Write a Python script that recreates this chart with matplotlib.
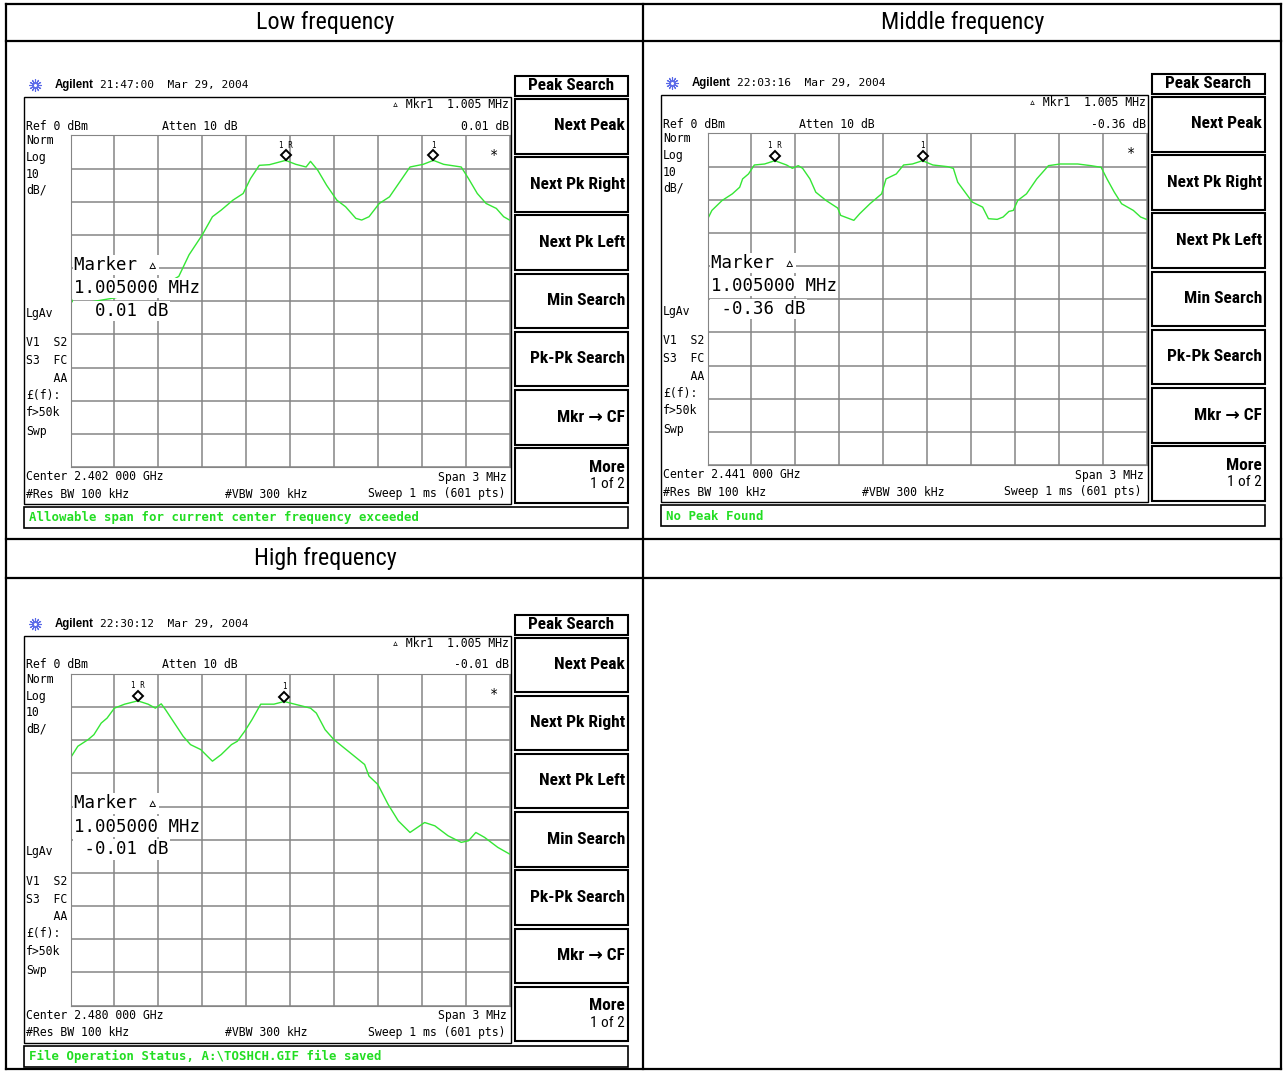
import numpy as np
import matplotlib
matplotlib.use('Agg')
import matplotlib.pyplot as plt
import matplotlib.transforms as mtransforms
from matplotlib import font_manager
from matplotlib.patches import Rectangle

# ---- data (offset from center in MHz, level in dBm)
low_freq = [-1.5, -1.47, -1.2, -0.9, -0.76, -0.69, -0.60, -0.53, -0.47, -0.39, -0.32, -0.27,
            -0.21, -0.14, -0.03, 0.04, 0.11, 0.14, 0.19, 0.25, 0.32, 0.38, 0.45, 0.49, 0.54,
            0.61, 0.68, 0.75, 0.82, 0.91, 0.98, 1.05, 1.14, 1.17, 1.22, 1.28, 1.34, 1.41, 1.46, 1.5]
low_level = [-49, -51, -49, -46, -42.5, -36, -30, -24.5, -22.5, -19.5, -17.5, -13,
             -9, -8.8, -7.5, -8.7, -9.5, -7.8, -10.5, -15, -19.5, -21.5, -25, -25.5, -24.5,
             -20.5, -18.5, -14, -9.5, -8.7, -7.5, -8.7, -9.3, -9.5, -13, -17.5, -20.5, -22, -24.5, -25.5]

mid_freq = [-1.5, -1.47, -1.40, -1.33, -1.28, -1.26, -1.22, -1.18, -1.11, -1.04, -0.96, -0.92,
            -0.88, -0.85, -0.80, -0.76, -0.69, -0.61, -0.59, -0.53, -0.50, -0.46, -0.39, -0.31,
            -0.28, -0.21, -0.16, -0.10, -0.03, 0.04, 0.14, 0.18, 0.21, 0.26, 0.31, 0.38, 0.42,
            0.48, 0.52, 0.56, 0.59, 0.62, 0.68, 0.75, 0.83, 0.91, 1.03, 1.12, 1.19, 1.23, 1.28,
            1.33, 1.41, 1.46, 1.5]
mid_level = [-25.9, -23.2, -20.2, -18.2, -16.2, -13.7, -12.2, -9.5, -9.2, -8.2, -9.5, -10.5,
             -9.7, -10.5, -13.7, -17.7, -20.2, -22.5, -24.7, -25.7, -26.2, -24.2, -21.2, -18.2,
             -13.7, -12.2, -9.5, -9.2, -8.2, -9.5, -10.0, -10.5, -14.7, -17.7, -20.7, -22.2, -25.7,
             -25.9, -25.2, -23.5, -23.2, -20.2, -18.2, -13.7, -9.7, -9.2, -9.2, -9.7, -10.2, -13.7, -17.7,
             -21.2, -23.2, -25.2, -25.9]

high_freq = [-1.5, -1.45, -1.38, -1.34, -1.29, -1.25, -1.20, -1.13, -1.04, -0.97, -0.92, -0.88,
             -0.85, -0.79, -0.73, -0.68, -0.61, -0.56, -0.53, -0.47, -0.40, -0.36, -0.31, -0.26,
             -0.20, -0.11, -0.04, 0.05, 0.14, 0.18, 0.24, 0.30, 0.37, 0.44, 0.51, 0.54, 0.60,
             0.67, 0.74, 0.82, 0.87, 0.92, 0.99, 1.08, 1.17, 1.22, 1.27, 1.33, 1.42, 1.5]
high_level = [-25.3, -21.8, -19.8, -18.3, -14.8, -13.3, -10.3, -9.1, -8.1, -9.1, -10.3, -9.0,
              -10.8, -14.8, -18.8, -21.3, -22.8, -25.0, -26.3, -24.3, -21.3, -20.3, -17.3, -13.8,
              -9.1, -9.1, -8.3, -9.3, -10.3, -11.8, -16.8, -19.8, -22.3, -24.8, -27.3, -30.8, -33.3,
              -39.3, -44.3, -47.8, -46.3, -44.8, -45.8, -48.8, -50.8, -50.3, -47.8, -49.3, -52.3, -54.3]

titles = ['Low frequency', 'Middle frequency', 'High frequency']
times = ['21:47:00', '22:03:16', '22:30:12']
centers = ['Center 2.402 000 GHz', 'Center 2.441 000 GHz', 'Center 2.480 000 GHz']
delta_db = ['0.01 dB', '-0.36 dB', '-0.01 dB']
marker_db = ['  0.01 dB', ' -0.36 dB', ' -0.01 dB']
status = ['Allowable span for current center frequency exceeded',
          'No Peak Found',
          'File Operation Status, A:\\TOSHCH.GIF file saved']
mkr_ref = [-0.03, -1.04, -1.04]
mkr_delta = [0.98, -0.03, -0.04]
softkeys = ['Next Peak', 'Next Pk Right', 'Next Pk Left', 'Min Search', 'Pk-Pk Search', 'Mkr \u2192 CF']

traces = [(low_freq, low_level), (mid_freq, mid_level), (high_freq, high_level)]
offsets = [(0, 0), (637, -2), (0, 538.5)]

W, H = 1285, 1072
GX0, GX1, GY0, GY1 = 70.5, 509.5, 135.5, 467
TRACE = '#35e635'
MONO = ['DejaVu Sans Mono', 'DejaVu Sans']

# a narrow sans face if there is one, else Liberation Sans made smaller
installed = {f.name for f in font_manager.fontManager.ttflist}
NARROW, NS = ['Liberation Sans', 'DejaVu Sans'], 0.84
for cand in ['Liberation Sans Narrow', 'Roboto Condensed', 'Open Sans Condensed']:
    if cand in installed:
        NARROW, NS = [cand, 'DejaVu Sans'], 1.0
        break

fig = plt.figure(figsize=(W / 100, H / 100), dpi=100)

# grid screens with the traces
for i, (ox, oy) in enumerate(offsets):
    ax = fig.add_axes([(GX0 + ox) / W, 1 - (GY1 + oy) / H, (GX1 - GX0) / W, (GY1 - GY0) / H])
    ax.set_xlim(-1.5, 1.5)
    ax.set_ylim(-100, 0)
    ax.set_xticks(np.linspace(-1.5, 1.5, 11))
    ax.set_yticks(np.linspace(-100, 0, 11))
    ax.grid(True, color='#858585', lw=1.1)
    ax.tick_params(length=0, labelbottom=False, labelleft=False)
    for s in ax.spines.values():
        s.set_color('#858585')
    f, lv = traces[i]
    ax.plot(f, lv, color=TRACE, lw=1.0)
    for mf, lab in zip([mkr_ref[i], mkr_delta[i]], ['1 R', '1']):
        ml = np.interp(mf, f, lv)
        tr = mtransforms.offset_copy(ax.transData, fig=fig, y=5, units='dots')
        ax.plot(mf, ml, marker='D', ms=5, mfc='white', mec='black', mew=1.4,
                transform=tr, clip_on=False)
        tr2 = mtransforms.offset_copy(ax.transData, fig=fig, y=15, units='dots')
        ax.text(mf, ml, lab, transform=tr2, ha='center', va='center', fontsize=5.5, family=MONO)
    ax.text(0.966, 0.94, '*', transform=ax.transAxes, ha='center', va='center',
            fontsize=10, family=MONO)

# overlay in pixel coordinates: table, labels, softkeys
ax0 = fig.add_axes([0, 0, 1, 1], zorder=10)
ax0.set_xlim(0, W)
ax0.set_ylim(H, 0)
ax0.axis('off')
ax0.patch.set_alpha(0)

# table
for x in [6, 643, 1281]:
    ax0.plot([x, x], [4, 1069], color='black', lw=1.6)
for y in [4, 41, 539, 578, 1069]:
    ax0.plot([6, 1281], [y, y], color='black', lw=1.6)
ax0.text(325, 22, titles[0], ha='center', va='center', fontsize=17.3 * NS, family=NARROW)
ax0.text(963, 22, titles[1], ha='center', va='center', fontsize=17.3 * NS, family=NARROW)
ax0.text(325, 558, titles[2], ha='center', va='center', fontsize=17.3 * NS, family=NARROW)


def t(x, y, s, **kw):
    kw.setdefault('fontsize', 8.3)
    kw.setdefault('family', MONO)
    kw.setdefault('va', 'center')
    ax0.text(x, y, s, **kw)


for i, (ox, oy) in enumerate(offsets):
    # header line
    ax0.plot(35 + ox, 85 + oy, marker=(12, 2, 0), ms=9, color='#5a6ae8', mew=0.8)
    ax0.plot(35 + ox, 85 + oy, marker='o', ms=3, mfc='white', mec='#5a6ae8', mew=0.8)
    t(55 + ox, 85 + oy, 'Agilent', family=['Liberation Sans', 'DejaVu Sans'], weight='bold',
      fontsize=8.3)
    t(100 + ox, 85 + oy, times[i] + '  Mar 29, 2004', fontsize=8)
    # screen frame
    ax0.add_patch(Rectangle((24 + ox, 97 + oy), 487, 407, fill=False, ec='black', lw=1.0))
    t(26 + ox, 126 + oy, 'Ref 0 dBm')
    t(162 + ox, 126 + oy, 'Atten 10 dB')
    t(509 + ox, 105 + oy, '\u25b5 Mkr1  1.005 MHz', ha='right')
    t(509 + ox, 126 + oy, delta_db[i], ha='right')
    for y, s in [(141, 'Norm'), (158, 'Log'), (174, '10'), (190, 'dB/'), (313, 'LgAv'),
                 (343, 'V1  S2'), (361, 'S3  FC'), (378, '    AA'), (395, '\u00a3(f):'),
                 (413, 'f>50k'), (432, 'Swp')]:
        t(26 + ox, y + oy, s)
    t(26 + ox, 477 + oy, centers[i])
    t(26 + ox, 494 + oy, '#Res BW 100 kHz')
    t(225 + ox, 494 + oy, '#VBW 300 kHz')
    t(507 + ox, 477 + oy, 'Span 3 MHz', ha='right')
    t(505 + ox, 494 + oy, 'Sweep 1 ms (601 pts)', ha='right')
    # marker readout over the grid
    box = dict(fc='white', ec='none', pad=1.0)
    t(74 + ox, 265 + oy, 'Marker \u25b5', fontsize=12.5, bbox=box)
    t(74 + ox, 288 + oy, '1.005000 MHz', fontsize=12.5, bbox=box)
    t(74 + ox, 311 + oy, marker_db[i], fontsize=12.5, bbox=box)
    # status bar
    ax0.add_patch(Rectangle((24 + ox, 507 + oy), 604, 21, fill=False, ec='black', lw=1.2))
    t(29 + ox, 518 + oy, status[i], weight='bold', color='#22dd22', fontsize=8.9)
    # softkeys
    ax0.add_patch(Rectangle((515 + ox, 76 + oy), 113, 20, fill=False, ec='black', lw=1.5))
    t(571 + ox, 86 + oy, 'Peak Search', ha='center', family=NARROW, weight='bold',
      fontsize=12.3 * NS)
    for k in range(7):
        y0 = 99 + k * 58.2 + oy
        ax0.add_patch(Rectangle((515 + ox, y0), 113, 54.5, fill=False, ec='black', lw=1.5))
        if k < 6:
            t(625 + ox, y0 + 27, softkeys[k], ha='right', family=NARROW, weight='bold',
              fontsize=12.5 * NS)
        else:
            t(625 + ox, y0 + 19, 'More', ha='right', family=NARROW, weight='bold',
              fontsize=12.5 * NS)
            t(625 + ox, y0 + 36, '1 of 2', ha='right', family=NARROW, fontsize=11 * NS)

fig.savefig('out.png', dpi=100)
